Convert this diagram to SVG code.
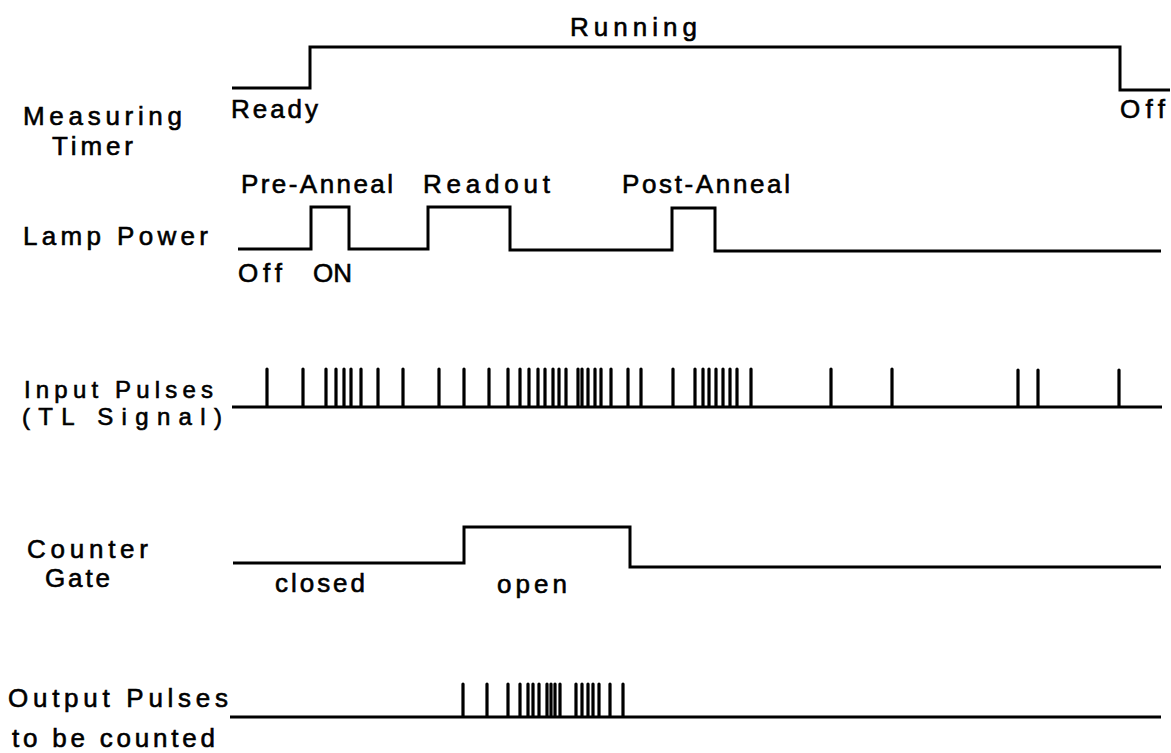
<svg xmlns="http://www.w3.org/2000/svg" width="1171" height="753" viewBox="0 0 1171 753">
<style>
.sig{fill:none;stroke:#000;stroke-width:3;stroke-linejoin:miter}
.pl{fill:none;stroke:#000;stroke-width:3.2;stroke-linecap:round}
.t{font-family:"Liberation Sans",Arial,sans-serif;font-size:26px;fill:#000;stroke:#000;stroke-width:0.6}
.s{font-size:24px}
</style>
<rect width="1171" height="753" fill="#fff"/>
<g id="timer">
<path class="sig" d="M232,88 H310 V47 H1120 V90 H1170"/>
<text class="t" x="570" y="36" textLength="127" lengthAdjust="spacing">Running</text>
<text class="t" x="231" y="118" textLength="87" lengthAdjust="spacing">Ready</text>
<text class="t" x="1120" y="118" textLength="45" lengthAdjust="spacing">Off</text>
<text class="t" x="23" y="125" textLength="159" lengthAdjust="spacing">Measuring</text>
<text class="t" x="52" y="155" textLength="81" lengthAdjust="spacing">Timer</text>
</g>
<g id="lamp">
<path class="sig" d="M238,249 H311 V207 H349 V249 H428 V207 H510 V250 H672 V208 H715 V251 H1161"/>
<text class="t" x="241" y="193" textLength="152" lengthAdjust="spacing">Pre-Anneal</text>
<text class="t" x="423" y="193" textLength="127" lengthAdjust="spacing">Readout</text>
<text class="t" x="622" y="193" textLength="168" lengthAdjust="spacing">Post-Anneal</text>
<text class="t" x="23" y="245" textLength="185" lengthAdjust="spacing">Lamp Power</text>
<text class="t" x="238" y="282" textLength="44" lengthAdjust="spacing">Off</text>
<text class="t" x="313" y="282" textLength="39" lengthAdjust="spacing">ON</text>
</g>
<g id="input">
<path class="sig" d="M232,407 H1162"/>
<path class="pl" d="M267,369V406M303,369V406M326,369V406M336,369V406M344,369V406M351,369V406M361,369V406M378,369V406M403,369V406M439,369V406M464,369V406M489,369V406M508,369V406M520,369V406M529,369V406M538,369V406M545,369V406M553,369V406M559,369V406M566,369V406M578,369V406M582,369V406M588,369V406M595,369V406M601,369V406M611,369V406M628,369V406M641,369V406M673,369V406M695,369V406M703,369V406M709,369V406M716,369V406M723,369V406M730,369V406M737,369V406M751,369V406M831,369V406M892,369V406M1018,370V406M1038,370V406M1119,370V406"/>
<text class="t s" x="24" y="398" textLength="189" lengthAdjust="spacing">Input Pulses</text>
<text class="t s" x="22" y="425" textLength="200" lengthAdjust="spacing">(TL Signal)</text>
</g>
<g id="gate">
<path class="sig" d="M233,563 H464 V527 H630 V567 H1161"/>
<text class="t" x="27" y="558" textLength="121" lengthAdjust="spacing">Counter</text>
<text class="t" x="45" y="587" textLength="65" lengthAdjust="spacing">Gate</text>
<text class="t" x="275" y="592" textLength="90" lengthAdjust="spacing">closed</text>
<text class="t" x="497" y="593" textLength="70" lengthAdjust="spacing">open</text>
</g>
<g id="output">
<path class="sig" d="M230,717 H1161"/>
<path class="pl" d="M463,684V716M487,684V716M508,684V716M520,684V716M528,684V716M533,684V716M539,684V716M547,684V716M551,684V716M555,684V716M560,684V716M576,684V716M582,684V716M588,684V716M593,684V716M599,684V716M610,684V716M623,684V716"/>
<text class="t" x="8" y="707" textLength="220" lengthAdjust="spacing">Output Pulses</text>
<text class="t" x="12" y="747" textLength="203" lengthAdjust="spacing">to be counted</text>
</g>
</svg>
